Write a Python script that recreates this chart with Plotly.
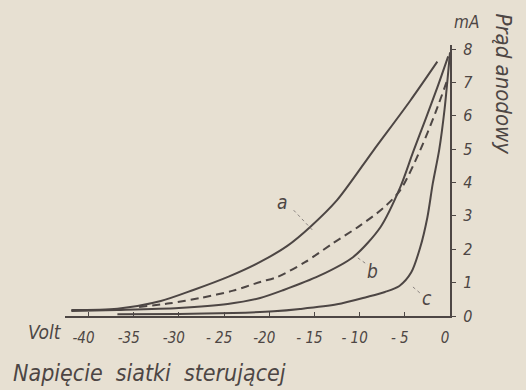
import plotly.graph_objects as go

# Grid voltage (V) / anode current (mA)
a_x = [-41.9, -36.8, -32.0, -28.4, -24.5, -21.0, -18.0, -15.5, -12.5, -8.5, -4.4, -1.4]
a_y = [0.18, 0.22, 0.45, 0.78, 1.18, 1.62, 2.10, 2.66, 3.47, 4.95, 6.45, 7.62]

d_x = [-34.4, -31.0, -27.6, -24.0, -21.0, -19.1, -16.0, -12.9, -10.0, -7.4, -5.5, -3.3, -1.6, -0.2]
d_y = [0.27, 0.38, 0.54, 0.76, 1.02, 1.17, 1.62, 2.19, 2.70, 3.23, 3.77, 4.97, 6.10, 7.15]

b_x = [-41.9, -36.8, -30.0, -24.6, -21.0, -18.4, -14.5, -10.7, -7.7, -5.5, -4.1, -2.7, -1.4, -0.2]
b_y = [0.15, 0.18, 0.24, 0.36, 0.54, 0.78, 1.20, 1.77, 2.66, 3.86, 4.90, 5.90, 6.85, 7.78]

c_x = [-36.8, -30.0, -24.0, -19.5, -16.6, -12.5, -9.2, -7.2, -5.6, -4.3, -3.3, -2.5, -1.9, -1.2, -0.6, 0.0]
c_y = [0.05, 0.06, 0.09, 0.14, 0.21, 0.35, 0.57, 0.72, 0.90, 1.30, 2.05, 2.96, 3.98, 4.97, 6.20, 7.90]

x_ticks = [-40, -35, -30, -25, -20, -15, -10, -5, 0]
x_ticktext = ["-40", "-35", "-30", "- 25", "-20", "- 15", "- 10", "- 5", "0"]
y_ticks = [0, 1, 2, 3, 4, 5, 6, 7, 8]

curve_labels = ["a", "b", "c"]
label_x = [-18.6, -8.6, -2.6]
label_y = [3.42, 1.36, 0.55]
leader_x0 = [-17.3, -10.2, -4.1]
leader_y0 = [3.17, 1.74, 0.87]
leader_x1 = [-15.1, -9.1, -3.2]
leader_y1 = [2.54, 1.53, 0.66]

INK = "#4d4644"
BG = "#e7e0d2"
FONT = "DejaVu Sans Condensed, Liberation Sans Narrow, DejaVu Sans, sans-serif"

fig = go.Figure()
for xs, ys, dash in [(a_x, a_y, "solid"), (b_x, b_y, "solid"), (c_x, c_y, "solid"), (d_x, d_y, "8px,5px")]:
    fig.add_trace(go.Scatter(x=xs, y=ys, mode="lines",
                             line=dict(color=INK, width=2, shape="spline", smoothing=0.8, dash=dash),
                             hoverinfo="skip", showlegend=False))

for i in range(3):
    fig.add_trace(go.Scatter(x=[leader_x0[i], leader_x1[i]], y=[leader_y0[i], leader_y1[i]],
                             mode="lines", line=dict(color="#8a8380", width=1, dash="dot"),
                             hoverinfo="skip", showlegend=False))
    fig.add_annotation(x=label_x[i], y=label_y[i], text=curve_labels[i], showarrow=False,
                       font=dict(family=FONT, size=19, color=INK, style="italic"))

fig.update_layout(
    width=526, height=390,
    margin=dict(l=65, r=76, t=45, b=74),
    paper_bgcolor=BG, plot_bgcolor=BG,
    showlegend=False,
    xaxis=dict(range=[-42.6, 0], showgrid=False, zeroline=False, showline=True,
               linecolor=INK, linewidth=2, ticks="inside", ticklen=4, tickcolor=INK,
               tickvals=x_ticks, ticktext=x_ticktext, ticklabelstandoff=7, ticklabelshift=-5,
               tickfont=dict(family=FONT, size=15, color=INK, style="italic")),
    yaxis=dict(range=[0, 8.12], side="right", showgrid=False, zeroline=False, showline=True,
               linecolor=INK, linewidth=2, ticks="outside", ticklen=4, tickcolor=INK,
               tickvals=y_ticks, ticklabelstandoff=4,
               tickfont=dict(family=FONT, size=16, color=INK, style="italic")),
)

fig.add_annotation(xref="paper", yref="paper", x=-0.052, y=-0.059, xanchor="center", yanchor="middle",
                   text="Volt", showarrow=False,
                   font=dict(family=FONT, size=19, color=INK, style="italic"))
fig.add_annotation(xref="paper", yref="paper", x=-0.14, y=-0.21, xanchor="left", yanchor="middle",
                   text="Napięcie  siatki  sterującej", showarrow=False,
                   font=dict(family=FONT, size=23, color=INK, style="italic"))
fig.add_annotation(xref="paper", yref="paper", x=1.044, y=1.04, xanchor="center", yanchor="bottom",
                   text="mA", showarrow=False,
                   font=dict(family=FONT, size=17, color=INK, style="italic"))
fig.add_annotation(xref="paper", yref="paper", x=1.138, y=1.125, xanchor="center", yanchor="top",
                   text="Prąd anodowy", textangle=90, showarrow=False,
                   font=dict(family=FONT, size=22, color=INK, style="italic"))

fig.write_html("out.html", config={"displayModeBar": False},
               post_script="document.body.style.margin='0';")
